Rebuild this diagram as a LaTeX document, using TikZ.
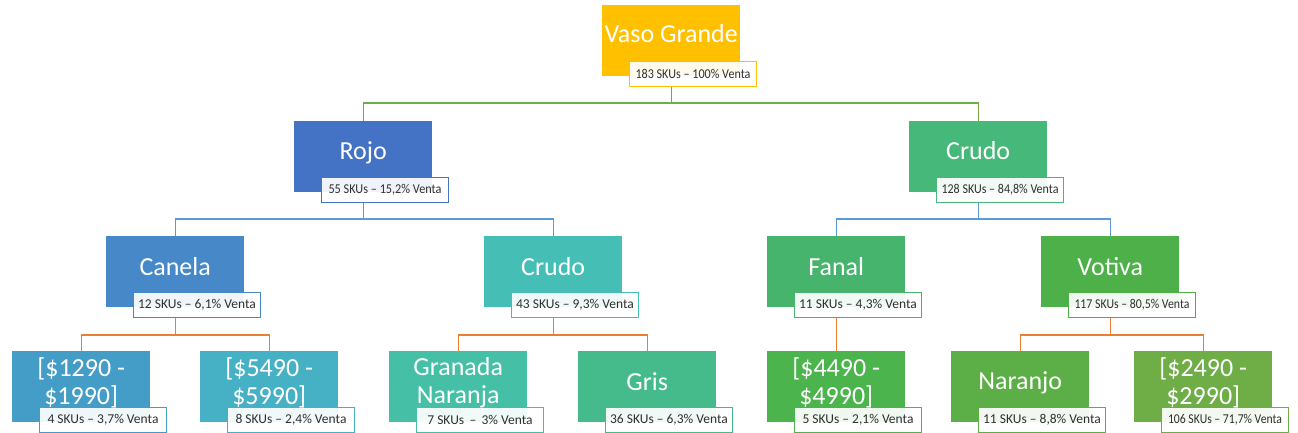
\documentclass[tikz,border=0pt]{standalone}
\usepackage{fontspec}
\setmainfont{Carlito}
\usepackage{graphicx}
\usetikzlibrary{calc}
\definecolor{cgold}{HTML}{FFC000}
\definecolor{crojo}{HTML}{4472C4}
\definecolor{ccrudoR}{HTML}{46B97A}
\definecolor{ccanela}{HTML}{4688C8}
\definecolor{ccrudoL}{HTML}{45BFB6}
\definecolor{cfanal}{HTML}{46B46C}
\definecolor{cvotiva}{HTML}{4DB049}
\definecolor{cpa}{HTML}{439DC6}
\definecolor{cpb}{HTML}{46B1C4}
\definecolor{cgranada}{HTML}{45C0A6}
\definecolor{cgris}{HTML}{45BB8C}
\definecolor{cpc}{HTML}{4BB44C}
\definecolor{cnaranjo}{HTML}{5CAE46}
\definecolor{cpd}{HTML}{6FAD47}
\definecolor{labtext}{HTML}{303030}
\definecolor{lgreen}{HTML}{70AD47}
\definecolor{lblue}{HTML}{5B9BD5}
\definecolor{lorange}{HTML}{ED7D31}
\tikzset{
  box/.style={draw=none, minimum width=138pt, minimum height=71pt, inner sep=0pt, anchor=north west},
  lab/.style={draw, line width=1pt, fill=white, fill opacity=0.92, text opacity=1, text=labtext,
    minimum width=127pt, minimum height=25pt, inner sep=0pt, anchor=north west,
    font=\fontsize{13.5}{15}\selectfont},
  ttl/.style={text=white, inner sep=0pt, anchor=base, font=\fontsize{26}{28}\selectfont},
  cga/.style={draw=lgreen, line width=1.4pt},
  cbl/.style={draw=lblue, line width=1.4pt},
  cor/.style={draw=lorange, line width=1.4pt}
}
\newcommand\mkbox[5]{%
  \node[box, fill=#4] (#1) at (#2,#3) {};
  \node[lab, draw=#4] (#1l) at ($(#1.north west)+(27,56)$) {#5};
}
\newcommand\sq[2]{\resizebox{#1pt}{\height}{#2}}
\begin{document}
\begin{tikzpicture}[x=1pt,y=-1pt]
\useasboundingbox (0,0) rectangle (1298,433);
% level 0
\mkbox{vaso}{602}{5}{cgold}{\sq{115}{183 SKUs – 100\% Venta}}
\node[ttl] (vasot) at ($(vaso.north)+(0,38)$) {Vaso Grande};
% level 1
\mkbox{rojo}{294}{121}{crojo}{\sq{113}{55 SKUs – 15,2\% Venta}}
\node[ttl] (rojot) at ($(rojo.north)+(0,39)$) {Rojo};
\mkbox{crudoR}{909}{121}{ccrudoR}{\sq{117}{128 SKUs – 84,8\% Venta}}
\node[ttl] (crudoRt) at ($(crudoR.north)+(0,39)$) {Crudo};
% level 2
\mkbox{canela}{106}{236}{ccanela}{12 SKUs – 6,1\% Venta}
\node[ttl] (canelat) at ($(canela.north)+(0,39)$) {Canela};
\mkbox{crudoL}{484}{236}{ccrudoL}{43 SKUs – 9,3\% Venta}
\node[ttl] (crudoLt) at ($(crudoL.north)+(0,39)$) {Crudo};
\mkbox{fanal}{767}{236}{cfanal}{11 SKUs – 4,3\% Venta}
\node[ttl] (fanalt) at ($(fanal.north)+(0,39)$) {Fanal};
\mkbox{votiva}{1041}{236}{cvotiva}{\sq{115}{117 SKUs – 80,5\% Venta}}
\node[ttl] (votivat) at ($(votiva.north)+(0,39)$) {Votiva};
% level 3
\mkbox{pa}{12}{351}{cpa}{4 SKUs – 3,7\% Venta}
\node[ttl] (pat1) at ($(pa.north)+(0,25)$) {[\$1290 -};
\node[ttl] (pat2) at ($(pa.north)+(0,53)$) {\$1990]};
\mkbox{pb}{200}{351}{cpb}{8 SKUs – 2,4\% Venta}
\node[ttl] (pbt1) at ($(pb.north)+(0,25)$) {[\$5490 -};
\node[ttl] (pbt2) at ($(pb.north)+(0,53)$) {\$5990]};
\mkbox{granada}{389}{351}{cgranada}{7 SKUs \,–\, 3\% Venta}
\node[ttl] (granadat1) at ($(granada.north)+(0,24)$) {Granada};
\node[ttl] (granadat2) at ($(granada.north)+(0,52)$) {Naranja};
\mkbox{gris}{578}{351}{cgris}{36 SKUs – 6,3\% Venta}
\node[ttl] (grist) at ($(gris.north)+(0,39)$) {Gris};
\mkbox{pc}{767}{351}{cpc}{5 SKUs – 2,1\% Venta}
\node[ttl] (pct1) at ($(pc.north)+(0,25)$) {[\$4490 -};
\node[ttl] (pct2) at ($(pc.north)+(0,53)$) {\$4990]};
\mkbox{naranjo}{951}{351}{cnaranjo}{11 SKUs – 8,8\% Venta}
\node[ttl] (naranjot) at ($(naranjo.north)+(0,38)$) {Naranjo};
\mkbox{pd}{1134}{351}{cpd}{\sq{114}{106 SKUs – 71,7\% Venta}}
\node[ttl] (pdt1) at ($(pd.north)+(0,25)$) {[\$2490 -};
\node[ttl] (pdt2) at ($(pd.north)+(0,53)$) {\$2990]};
% connectors
\draw[cga] (vaso |- vasol.south) -- ++(0,16) coordinate (j0);
\draw[cga] (j0) -| (rojo.north);
\draw[cga] (j0) -| (crudoR.north);
\draw[cbl] (rojo |- rojol.south) -- ++(0,16) coordinate (j1);
\draw[cbl] (j1) -| (canela.north);
\draw[cbl] (j1) -| (crudoL.north);
\draw[cbl] (crudoR |- crudoRl.south) -- ++(0,16) coordinate (j2);
\draw[cbl] (j2) -| (fanal.north);
\draw[cbl] (j2) -| (votiva.north);
\draw[cor] (canela |- canelal.south) -- ++(0,17) coordinate (j3);
\draw[cor] (j3) -| (pa.north);
\draw[cor] (j3) -| (pb.north);
\draw[cor] (crudoL |- crudoLl.south) -- ++(0,17) coordinate (j4);
\draw[cor] (j4) -| (granada.north);
\draw[cor] (j4) -| (gris.north);
\draw[cor] (fanal |- fanall.south) -- (pc.north);
\draw[cor] (votiva |- votival.south) -- ++(0,17) coordinate (j5);
\draw[cor] (j5) -| (naranjo.north);
\draw[cor] (j5) -| (pd.north);
\end{tikzpicture}
\end{document}
